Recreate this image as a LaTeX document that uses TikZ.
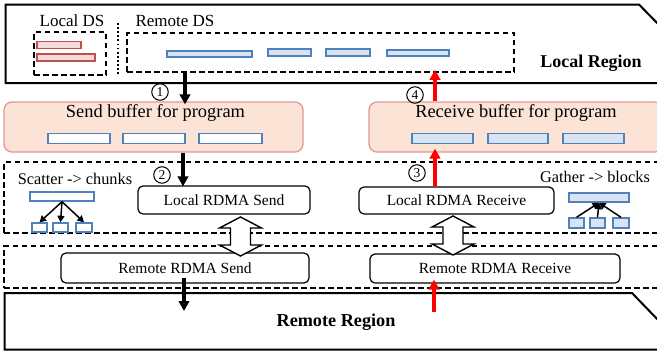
\documentclass[tikz,border=0pt]{standalone}
\usepackage{fontspec}
\setmainfont{Liberation Serif}
\usetikzlibrary{arrows.meta}
\definecolor{bbord}{RGB}{79,129,189}
\definecolor{bfill}{RGB}{218,227,243}
\definecolor{rbord}{RGB}{192,80,77}
\definecolor{rfill}{RGB}{242,220,219}
\definecolor{buffill}{RGB}{251,228,214}
\definecolor{bufbord}{RGB}{228,150,150}
\newcommand\myDblArrow[3]{\draw[line width=1.4pt, fill=white] (#1,#2) -- (#1+21,#2+11) -- (#1+10,#2+11) -- (#1+10,#3-11) -- (#1+21,#3-11) -- (#1,#3) -- (#1-21,#3-11) -- (#1-10,#3-11) -- (#1-10,#2+11) -- (#1-21,#2+11) -- cycle;}
\tikzset{
  region/.style={line width=2pt},
  dbox/.style={draw, line width=1.6pt, dash pattern=on 5.5pt off 3.5pt, rectangle, inner sep=0pt},
  bluebar/.style={draw=bbord, fill=bfill, line width=1.4pt, inner sep=0pt},
  whitebar/.style={draw=bbord, fill=white, line width=1.4pt, inner sep=0pt},
  redbar/.style={draw=rbord, fill=rfill, line width=1.4pt, inner sep=0pt},
  buffer/.style={draw=bufbord, fill=buffill, line width=1.3pt, rounded corners=8pt, inner sep=0pt},
  rdma/.style={draw, line width=1.2pt, rounded corners=5pt, inner sep=0pt, font=\fontsize{15.5}{18}\selectfont},
  lbl/.style={inner sep=0pt},
  cnum/.style={circle, draw, line width=1pt, inner sep=0pt, minimum size=16.5pt, font=\fontsize{13.5}{14}\selectfont},
  flow/.style={line width=3.3pt, -{Triangle[length=10pt,width=10.5pt]}},
  redflow/.style={flow, draw=red},
  thin/.style={line width=1.5pt, -{Triangle[length=6.5pt,width=7pt]}},
}
\begin{document}
\begin{tikzpicture}[x=1pt,y=-1pt]
\useasboundingbox (0,0) rectangle (657,354);
% Local region
\draw[region] (665,83) -- (5.5,83) -- (5.5,4.5) -- (639,4.5) -- (660,26);
\node[lbl, font=\fontsize{17}{19}\selectfont] (tlds) at (72,21) {Local DS};
\node[lbl, font=\fontsize{17}{19}\selectfont] (trds) at (175,21) {Remote DS};
\node[dbox, minimum width=72, minimum height=43] (lds) at (70,53.5) {};
\node[dbox, minimum width=387, minimum height=39] (rds) at (320.5,52.5) {};
\coordinate (dt) at (118,23);
\coordinate (db) at (118,76);
\draw[line width=1.8pt, dash pattern=on 1.8pt off 2.3pt] (dt) -- (db);
\node[redbar, minimum width=44, minimum height=7] (lb1) at (59,45) {};
\node[redbar, minimum width=58, minimum height=7] (lb2) at (66,57.5) {};
\node[bluebar, minimum width=85, minimum height=6] (rb1) at (209.5,54) {};
\node[bluebar, minimum width=43, minimum height=7] (rb2) at (289.5,52.5) {};
\node[bluebar, minimum width=44, minimum height=7] (rb3) at (348,52.5) {};
\node[bluebar, minimum width=62, minimum height=6] (rb4) at (418,53) {};
\node[lbl, font=\bfseries\fontsize{18}{20}\selectfont] (tlr) at (591,63) {Local Region};
% buffers
\node[buffer, minimum width=299, minimum height=50] (sbuf) at (153.5,127) {};
\node[buffer, minimum width=294, minimum height=50] (rbuf) at (516,127) {};
\node[lbl, font=\fontsize{18.4}{20}\selectfont] (tsb) at (155.5,113.5) {Send buffer for program};
\node[lbl, font=\fontsize{18.4}{20}\selectfont] (trb) at (516,113.5) {Receive buffer for program};
\node[whitebar, minimum width=62, minimum height=10] (sb1) at (79,138.5) {};
\node[whitebar, minimum width=62, minimum height=10] (sb2) at (154,138.5) {};
\node[whitebar, minimum width=63, minimum height=10] (sb3) at (230.5,138.5) {};
\node[bluebar, minimum width=61, minimum height=10] (rbb1) at (442.5,138.5) {};
\node[bluebar, minimum width=60, minimum height=10] (rbb2) at (518,138.5) {};
\node[bluebar, minimum width=61, minimum height=10] (rbb3) at (593.5,138.5) {};
% dashed regions
\node[dbox, minimum width=661, minimum height=71] (reg2) at (334.5,197.5) {};
\node[dbox, minimum width=661, minimum height=42] (reg3) at (334.5,267) {};
% RDMA boxes
\node[rdma, minimum width=172, minimum height=28] (lsend) at (224,200) {Local RDMA Send};
\node[rdma, minimum width=195, minimum height=27] (lrecv) at (456.5,200.5) {Local RDMA Receive};
\node[rdma, fill=white, minimum width=248, minimum height=30] (rsend) at (185,268) {Remote RDMA Send};
\node[rdma, fill=white, minimum width=250, minimum height=29] (rrecv) at (495,268.5) {Remote RDMA Receive};
% scatter
\node[lbl, font=\fontsize{16.3}{18}\selectfont] (tsc) at (75,179) {Scatter -> chunks};
\node[whitebar, minimum width=64, minimum height=9] (scb) at (62,196.5) {};
\node[whitebar, minimum width=15, minimum height=9] (sc1) at (39.5,227.5) {};
\node[whitebar, minimum width=15, minimum height=9] (sc2) at (60.5,227.5) {};
\node[whitebar, minimum width=16, minimum height=9] (sc3) at (84,227.5) {};
\draw[thin] (scb.south) -- (sc1.north);
\draw[thin] (scb.south) -- (sc2.north);
\draw[thin] (scb.south) -- (sc3.north);
% gather
\node[lbl, font=\fontsize{16.3}{18}\selectfont] (tga) at (595,177) {Gather -> blocks};
\node[bluebar, minimum width=60, minimum height=9] (gab) at (599,197.5) {};
\node[bluebar, minimum width=15, minimum height=10] (ga1) at (576.5,223) {};
\node[bluebar, minimum width=15, minimum height=10] (ga2) at (597.5,223) {};
\node[bluebar, minimum width=16, minimum height=10] (ga3) at (621,223) {};
\draw[thin] (ga1.north) -- (gab.south);
\draw[thin] (ga2.north) -- (gab.south);
\draw[thin] (ga3.north) -- (gab.south);
% remote region
\draw[region] (665,349.5) -- (4.5,349.5) -- (4.5,293) -- (632,293) -- (660,322);
\node[lbl, font=\bfseries\fontsize{18.2}{20}\selectfont] (trr) at (336,322) {Remote Region};
% flow arrows
\coordinate (c1) at (185,0);
\coordinate (c2) at (183,0);
\coordinate (c4) at (435,0);
\coordinate (c5) at (184,0);
\draw[flow, shorten >=-3pt] (rds.south -| c1) -- (sbuf.north -| c1);
\node[cnum] (n1) at (160,92) {1};
\draw[redflow, shorten >=-3pt] (rbuf.north -| c4) -- (rds.south -| c4);
\node[cnum] (n4) at (415,95) {4};
\draw[flow, shorten >=-1pt] (sbuf.south -| c2) -- (lsend.north -| c2);
\node[cnum] (n2) at (162,175) {2};
\draw[redflow, shorten >=-4pt] (lrecv.north -| c4) -- (rbuf.south -| c4);
\node[cnum] (n3) at (417,173) {3};
\coordinate (rsd) at (184,311);
\draw[flow, shorten <=-6pt] (rsend.south -| c5) -- (rsd);
\coordinate (rru) at (434,312);
\draw[redflow, shorten >=-4pt] (rru) -- (rrecv.south -| rru);
% double arrows
\myDblArrow{240.5}{217}{256}
\myDblArrow{453}{216}{255}
\end{tikzpicture}
\end{document}
